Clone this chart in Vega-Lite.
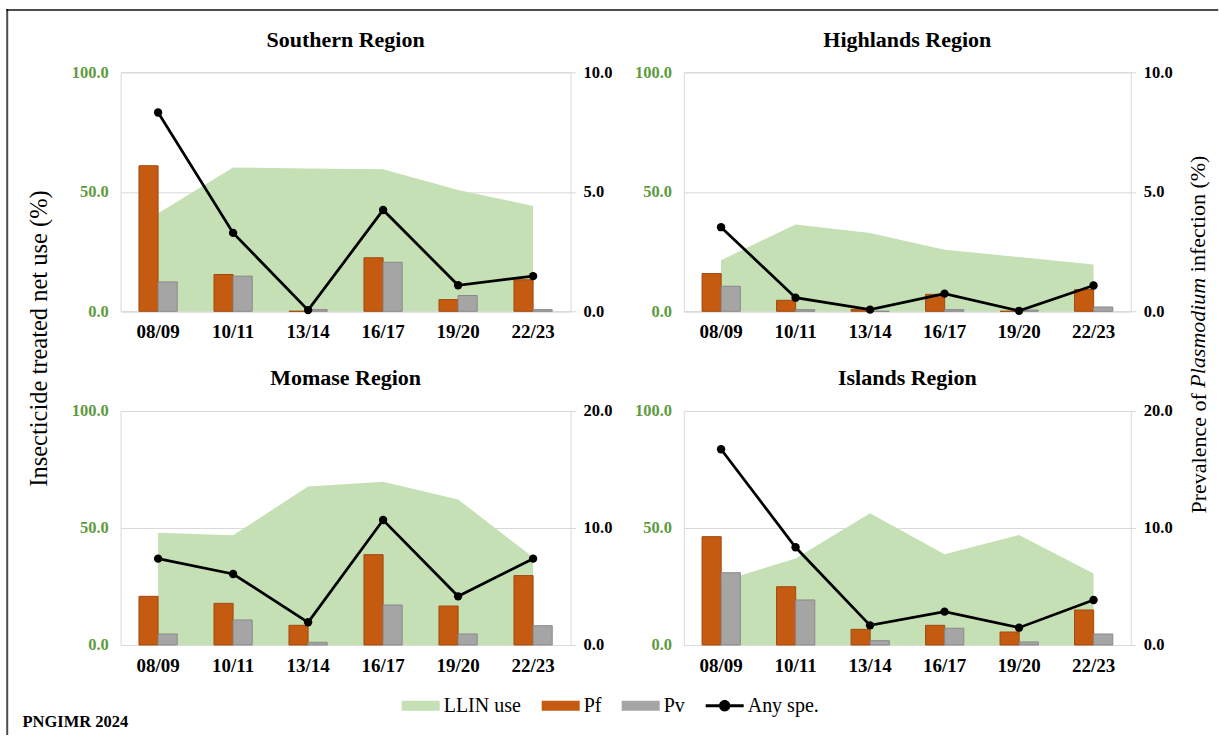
{
  "$schema": "https://vega.github.io/schema/vega-lite/v6.json",
  "background": "white",
  "padding": {"left": 5.6, "top": 8.3, "right": 0, "bottom": 0},
  "bounds": "flush",
  "columns": 2,
  "spacing": {"row": 99.7, "column": 113.2},
  "datasets": {
    "malaria": [
      {"region": "Southern", "period": "08/09", "series": "LLIN use", "value": 41.0},
      {"region": "Southern", "period": "10/11", "series": "LLIN use", "value": 60.2},
      {"region": "Southern", "period": "13/14", "series": "LLIN use", "value": 59.7},
      {"region": "Southern", "period": "16/17", "series": "LLIN use", "value": 59.4},
      {"region": "Southern", "period": "19/20", "series": "LLIN use", "value": 50.8},
      {"region": "Southern", "period": "22/23", "series": "LLIN use", "value": 44.1},
      {"region": "Southern", "period": "08/09", "series": "Pf", "value": 6.09},
      {"region": "Southern", "period": "10/11", "series": "Pf", "value": 1.54},
      {"region": "Southern", "period": "13/14", "series": "Pf", "value": 0.0},
      {"region": "Southern", "period": "16/17", "series": "Pf", "value": 2.24},
      {"region": "Southern", "period": "19/20", "series": "Pf", "value": 0.49},
      {"region": "Southern", "period": "22/23", "series": "Pf", "value": 1.32},
      {"region": "Southern", "period": "08/09", "series": "Pv", "value": 1.23},
      {"region": "Southern", "period": "10/11", "series": "Pv", "value": 1.47},
      {"region": "Southern", "period": "13/14", "series": "Pv", "value": 0.07},
      {"region": "Southern", "period": "16/17", "series": "Pv", "value": 2.05},
      {"region": "Southern", "period": "19/20", "series": "Pv", "value": 0.66},
      {"region": "Southern", "period": "22/23", "series": "Pv", "value": 0.07},
      {"region": "Southern", "period": "08/09", "series": "Any spe.", "value": 8.32},
      {"region": "Southern", "period": "10/11", "series": "Any spe.", "value": 3.28},
      {"region": "Southern", "period": "13/14", "series": "Any spe.", "value": 0.05},
      {"region": "Southern", "period": "16/17", "series": "Any spe.", "value": 4.24},
      {"region": "Southern", "period": "19/20", "series": "Any spe.", "value": 1.09},
      {"region": "Southern", "period": "22/23", "series": "Any spe.", "value": 1.47},

      {"region": "Highlands", "period": "08/09", "series": "LLIN use", "value": 21.4},
      {"region": "Highlands", "period": "10/11", "series": "LLIN use", "value": 36.3},
      {"region": "Highlands", "period": "13/14", "series": "LLIN use", "value": 32.8},
      {"region": "Highlands", "period": "16/17", "series": "LLIN use", "value": 25.8},
      {"region": "Highlands", "period": "19/20", "series": "LLIN use", "value": 22.7},
      {"region": "Highlands", "period": "22/23", "series": "LLIN use", "value": 19.6},
      {"region": "Highlands", "period": "08/09", "series": "Pf", "value": 1.58},
      {"region": "Highlands", "period": "10/11", "series": "Pf", "value": 0.46},
      {"region": "Highlands", "period": "13/14", "series": "Pf", "value": 0.08},
      {"region": "Highlands", "period": "16/17", "series": "Pf", "value": 0.71},
      {"region": "Highlands", "period": "19/20", "series": "Pf", "value": 0.0},
      {"region": "Highlands", "period": "22/23", "series": "Pf", "value": 0.91},
      {"region": "Highlands", "period": "08/09", "series": "Pv", "value": 1.05},
      {"region": "Highlands", "period": "10/11", "series": "Pv", "value": 0.07},
      {"region": "Highlands", "period": "13/14", "series": "Pv", "value": 0.0},
      {"region": "Highlands", "period": "16/17", "series": "Pv", "value": 0.07},
      {"region": "Highlands", "period": "19/20", "series": "Pv", "value": 0.05},
      {"region": "Highlands", "period": "22/23", "series": "Pv", "value": 0.18},
      {"region": "Highlands", "period": "08/09", "series": "Any spe.", "value": 3.52},
      {"region": "Highlands", "period": "10/11", "series": "Any spe.", "value": 0.57},
      {"region": "Highlands", "period": "13/14", "series": "Any spe.", "value": 0.07},
      {"region": "Highlands", "period": "16/17", "series": "Any spe.", "value": 0.74},
      {"region": "Highlands", "period": "19/20", "series": "Any spe.", "value": 0.02},
      {"region": "Highlands", "period": "22/23", "series": "Any spe.", "value": 1.08},

      {"region": "Momase", "period": "08/09", "series": "LLIN use", "value": 48.0},
      {"region": "Momase", "period": "10/11", "series": "LLIN use", "value": 46.9},
      {"region": "Momase", "period": "13/14", "series": "LLIN use", "value": 67.7},
      {"region": "Momase", "period": "16/17", "series": "LLIN use", "value": 69.8},
      {"region": "Momase", "period": "19/20", "series": "LLIN use", "value": 62.2},
      {"region": "Momase", "period": "22/23", "series": "LLIN use", "value": 37.5},
      {"region": "Momase", "period": "08/09", "series": "Pf", "value": 4.16},
      {"region": "Momase", "period": "10/11", "series": "Pf", "value": 3.56},
      {"region": "Momase", "period": "13/14", "series": "Pf", "value": 1.68},
      {"region": "Momase", "period": "16/17", "series": "Pf", "value": 7.72},
      {"region": "Momase", "period": "19/20", "series": "Pf", "value": 3.33},
      {"region": "Momase", "period": "22/23", "series": "Pf", "value": 5.93},
      {"region": "Momase", "period": "08/09", "series": "Pv", "value": 0.94},
      {"region": "Momase", "period": "10/11", "series": "Pv", "value": 2.14},
      {"region": "Momase", "period": "13/14", "series": "Pv", "value": 0.23},
      {"region": "Momase", "period": "16/17", "series": "Pv", "value": 3.42},
      {"region": "Momase", "period": "19/20", "series": "Pv", "value": 0.94},
      {"region": "Momase", "period": "22/23", "series": "Pv", "value": 1.65},
      {"region": "Momase", "period": "08/09", "series": "Any spe.", "value": 7.38},
      {"region": "Momase", "period": "10/11", "series": "Any spe.", "value": 6.07},
      {"region": "Momase", "period": "13/14", "series": "Any spe.", "value": 1.94},
      {"region": "Momase", "period": "16/17", "series": "Any spe.", "value": 10.68},
      {"region": "Momase", "period": "19/20", "series": "Any spe.", "value": 4.16},
      {"region": "Momase", "period": "22/23", "series": "Any spe.", "value": 7.38},

      {"region": "Islands", "period": "08/09", "series": "LLIN use", "value": 27.1},
      {"region": "Islands", "period": "10/11", "series": "LLIN use", "value": 37.0},
      {"region": "Islands", "period": "13/14", "series": "LLIN use", "value": 56.3},
      {"region": "Islands", "period": "16/17", "series": "LLIN use", "value": 38.8},
      {"region": "Islands", "period": "19/20", "series": "LLIN use", "value": 47.0},
      {"region": "Islands", "period": "22/23", "series": "LLIN use", "value": 30.6},
      {"region": "Islands", "period": "08/09", "series": "Pf", "value": 9.26},
      {"region": "Islands", "period": "10/11", "series": "Pf", "value": 4.98},
      {"region": "Islands", "period": "13/14", "series": "Pf", "value": 1.34},
      {"region": "Islands", "period": "16/17", "series": "Pf", "value": 1.68},
      {"region": "Islands", "period": "19/20", "series": "Pf", "value": 1.11},
      {"region": "Islands", "period": "22/23", "series": "Pf", "value": 2.99},
      {"region": "Islands", "period": "08/09", "series": "Pv", "value": 6.18},
      {"region": "Islands", "period": "10/11", "series": "Pv", "value": 3.85},
      {"region": "Islands", "period": "13/14", "series": "Pv", "value": 0.37},
      {"region": "Islands", "period": "16/17", "series": "Pv", "value": 1.43},
      {"region": "Islands", "period": "19/20", "series": "Pv", "value": 0.26},
      {"region": "Islands", "period": "22/23", "series": "Pv", "value": 0.94},
      {"region": "Islands", "period": "08/09", "series": "Any spe.", "value": 16.73},
      {"region": "Islands", "period": "10/11", "series": "Any spe.", "value": 8.35},
      {"region": "Islands", "period": "13/14", "series": "Any spe.", "value": 1.68},
      {"region": "Islands", "period": "16/17", "series": "Any spe.", "value": 2.85},
      {"region": "Islands", "period": "19/20", "series": "Any spe.", "value": 1.48},
      {"region": "Islands", "period": "22/23", "series": "Any spe.", "value": 3.85}
    ]
  },
  "data": {"name": "malaria"},
  "concat": [
    {
      "width": 450,
      "height": 239,
      "title": "Southern Region",
      "transform": [{"filter": "datum.region === 'Southern'"}],
      "encoding": {
        "x": {"field": "period", "type": "nominal", "scale": {"paddingInner": 0.49, "paddingOuter": 0.245}, "axis": {"title": null}},
        "color": {
          "field": "series", "type": "nominal",
          "scale": {"domain": ["LLIN use", "Pf", "Pv", "Any spe."], "range": ["#C5E0B4", "#C55A11", "#A5A5A5", "#000000"]},
          "legend": {
            "title": null, "orient": "none", "direction": "horizontal", "legendX": 281.1, "legendY": 614.4,
            "padding": 0, "columnPadding": 20, "labelFont": "Liberation Serif", "labelFontSize": 20, "labelColor": "#000000",
            "labelOffset": 4, "symbolSize": 1444, "symbolStrokeWidth": 0,
            "encoding": {"symbols": {
              "shape": {"value": {"expr": "datum.value === 'Any spe.' ? 'M-1,-0.08H1V0.08H-1Z M0.3,0A0.3,0.3 0 1,1 -0.3,0A0.3,0.3 0 1,1 0.3,0Z' : 'M-1,-0.26H1V0.26H-1Z'"}},
              "fill": {"value": {"expr": "datum.value === 'LLIN use' ? '#C5E0B4' : datum.value === 'Pf' ? '#C55A11' : datum.value === 'Pv' ? '#A5A5A5' : '#000000'"}},
              "stroke": {"value": "transparent"},
              "opacity": {"value": 1}
            }}
          }
        }
      },
      "layer": [
        {
          "transform": [{"filter": "datum.series === 'LLIN use'"}],
          "mark": {"type": "area", "opacity": 1},
          "encoding": {"y": {"field": "value", "type": "quantitative", "stack": null, "scale": {"domain": [0, 100]},
            "axis": {"orient": "left", "values": [0, 50, 100], "format": ".1f", "title": "Insecticide treated net use (%)",
              "titleX": -80.6, "titleY": 265.7, "titleAngle": 270, "titleAlign": "center", "titleBaseline": "middle",
              "titleFontSize": 24.5, "titleFontWeight": "normal"}}}
        },
        {
          "transform": [{"filter": "datum.series === 'Pf' || datum.series === 'Pv'"}],
          "mark": {"type": "bar", "opacity": 1, "strokeWidth": 1},
          "encoding": {
            "xOffset": {"field": "series", "type": "nominal", "scale": {"domain": ["Pf", "Pv"], "paddingInner": 0, "paddingOuter": 0}},
            "y": {"field": "value", "type": "quantitative", "stack": null, "scale": {"domain": [0, 10]},
              "axis": {"orient": "right", "values": [0, 5, 10], "format": ".1f", "title": "infection (%)",
                "titleX": 627.4, "titleY": 199.4, "titleAngle": 270, "titleAlign": "left", "titleBaseline": "middle",
                "titleFontSize": 22, "titleFontWeight": "normal"}},
            "stroke": {"condition": {"test": "datum.series === 'Pf'", "value": "#A04A0E"}, "value": "#8A8A8A"}
          }
        },
        {
          "transform": [{"filter": "datum.series === 'Any spe.'"}],
          "mark": {"type": "line", "strokeWidth": 2.75},
          "encoding": {"y": {"field": "value", "type": "quantitative", "scale": {"domain": [0, 10]}, "axis": null}}
        },
        {
          "transform": [{"filter": "datum.series === 'Any spe.'"}],
          "mark": {"type": "point", "filled": true, "size": 70, "opacity": 1},
          "encoding": {"y": {"field": "value", "type": "quantitative", "scale": {"domain": [0, 10]}, "axis": null}}
        },
        {
          "transform": [{"filter": "datum.series === 'Any spe.'"}],
          "mark": {"type": "point", "filled": true, "size": 0, "strokeWidth": 0},
          "encoding": {
            "y": {"field": "value", "type": "quantitative", "scale": {"domain": [0, 10]}, "axis": null},
            "fill": {"field": "value", "type": "quantitative", "scale": {"range": ["#000000", "#000000"]},
              "legend": {"title": null, "orient": "none", "direction": "vertical", "legendX": -114.4, "legendY": -63.3,
                "padding": 0, "gradientLength": 726, "gradientThickness": 2, "gradientStrokeWidth": 0,
                "labelExpr": "''", "labelFontSize": 0, "labelOffset": 0, "labelOpacity": 0}}
          }
        },
        {
          "transform": [{"filter": "datum.series === 'Pf'"}],
          "mark": {"type": "point", "filled": false, "size": 0, "strokeWidth": 0},
          "encoding": {
            "y": {"field": "value", "type": "quantitative", "scale": {"domain": [0, 10]}, "axis": null},
            "stroke": {"field": "value", "type": "quantitative", "scale": {"range": ["#000000", "#000000"]},
              "legend": {"title": null, "orient": "none", "direction": "horizontal", "legendX": -114.4, "legendY": -63.3,
                "padding": 0, "gradientLength": 1212, "gradientThickness": 2, "gradientStrokeWidth": 0,
                "labelExpr": "''", "labelFontSize": 0, "labelOffset": 0, "labelOpacity": 0}}
          }
        }
      ],
      "resolve": {"scale": {"y": "independent"}}
    },
    {
      "width": 447,
      "height": 239,
      "title": "Highlands Region",
      "transform": [{"filter": "datum.region === 'Highlands'"}],
      "encoding": {
        "x": {"field": "period", "type": "nominal", "scale": {"paddingInner": 0.49, "paddingOuter": 0.245}, "axis": {"title": null}},
        "color": {
          "field": "series", "type": "nominal",
          "scale": {"domain": ["LLIN use", "Pf", "Pv", "Any spe."], "range": ["#C5E0B4", "#C55A11", "#A5A5A5", "#000000"]},
          "legend": {
            "title": null, "orient": "none", "direction": "horizontal", "legendX": 281.1, "legendY": 614.4,
            "padding": 0, "columnPadding": 20, "labelFont": "Liberation Serif", "labelFontSize": 20, "labelColor": "#000000",
            "labelOffset": 4, "symbolSize": 1444, "symbolStrokeWidth": 0,
            "encoding": {"symbols": {
              "shape": {"value": {"expr": "datum.value === 'Any spe.' ? 'M-1,-0.08H1V0.08H-1Z M0.3,0A0.3,0.3 0 1,1 -0.3,0A0.3,0.3 0 1,1 0.3,0Z' : 'M-1,-0.26H1V0.26H-1Z'"}},
              "fill": {"value": {"expr": "datum.value === 'LLIN use' ? '#C5E0B4' : datum.value === 'Pf' ? '#C55A11' : datum.value === 'Pv' ? '#A5A5A5' : '#000000'"}},
              "stroke": {"value": "transparent"},
              "opacity": {"value": 1}
            }}
          }
        }
      },
      "layer": [
        {
          "transform": [{"filter": "datum.series === 'LLIN use'"}],
          "mark": {"type": "area", "opacity": 1},
          "encoding": {"y": {"field": "value", "type": "quantitative", "stack": null, "scale": {"domain": [0, 100]},
            "axis": {"orient": "left", "values": [0, 50, 100], "format": ".1f", "title": "Plasmodium",
              "titleX": 514.2, "titleY": 314.9, "titleAngle": 270, "titleAlign": "left", "titleBaseline": "middle",
              "titleFontSize": 22, "titleFontWeight": "normal", "titleFontStyle": "italic"}}}
        },
        {
          "transform": [{"filter": "datum.series === 'Pf' || datum.series === 'Pv'"}],
          "mark": {"type": "bar", "opacity": 1, "strokeWidth": 1},
          "encoding": {
            "xOffset": {"field": "series", "type": "nominal", "scale": {"domain": ["Pf", "Pv"], "paddingInner": 0, "paddingOuter": 0}},
            "y": {"field": "value", "type": "quantitative", "stack": null, "scale": {"domain": [0, 10]},
              "axis": {"orient": "right", "values": [0, 5, 10], "format": ".1f", "title": "Prevalence of",
                "titleX": 67.6, "titleY": 440.7, "titleAngle": 270, "titleAlign": "left", "titleBaseline": "middle",
                "titleFontSize": 22, "titleFontWeight": "normal"}},
            "stroke": {"condition": {"test": "datum.series === 'Pf'", "value": "#A04A0E"}, "value": "#8A8A8A"}
          }
        },
        {
          "transform": [{"filter": "datum.series === 'Any spe.'"}],
          "mark": {"type": "line", "strokeWidth": 2.75},
          "encoding": {"y": {"field": "value", "type": "quantitative", "scale": {"domain": [0, 10]}, "axis": null}}
        },
        {
          "transform": [{"filter": "datum.series === 'Any spe.'"}],
          "mark": {"type": "point", "filled": true, "size": 70, "opacity": 1},
          "encoding": {"y": {"field": "value", "type": "quantitative", "scale": {"domain": [0, 10]}, "axis": null}}
        }
      ],
      "resolve": {"scale": {"y": "independent"}}
    },
    {
      "width": 450,
      "height": 234,
      "title": "Momase Region",
      "transform": [{"filter": "datum.region === 'Momase'"}],
      "encoding": {
        "x": {"field": "period", "type": "nominal", "scale": {"paddingInner": 0.49, "paddingOuter": 0.245},
          "axis": {"title": "PNGIMR 2024", "titleX": -98.6, "titleY": 76.5, "titleAlign": "left", "titleBaseline": "middle",
            "titleAngle": 0, "titleFontSize": 16.5, "titleFontWeight": "bold"}},
        "color": {
          "field": "series", "type": "nominal",
          "scale": {"domain": ["LLIN use", "Pf", "Pv", "Any spe."], "range": ["#C5E0B4", "#C55A11", "#A5A5A5", "#000000"]},
          "legend": {
            "title": null, "orient": "none", "direction": "horizontal", "legendX": 281.1, "legendY": 614.4,
            "padding": 0, "columnPadding": 20, "labelFont": "Liberation Serif", "labelFontSize": 20, "labelColor": "#000000",
            "labelOffset": 4, "symbolSize": 1444, "symbolStrokeWidth": 0,
            "encoding": {"symbols": {
              "shape": {"value": {"expr": "datum.value === 'Any spe.' ? 'M-1,-0.08H1V0.08H-1Z M0.3,0A0.3,0.3 0 1,1 -0.3,0A0.3,0.3 0 1,1 0.3,0Z' : 'M-1,-0.26H1V0.26H-1Z'"}},
              "fill": {"value": {"expr": "datum.value === 'LLIN use' ? '#C5E0B4' : datum.value === 'Pf' ? '#C55A11' : datum.value === 'Pv' ? '#A5A5A5' : '#000000'"}},
              "stroke": {"value": "transparent"},
              "opacity": {"value": 1}
            }}
          }
        }
      },
      "layer": [
        {
          "transform": [{"filter": "datum.series === 'LLIN use'"}],
          "mark": {"type": "area", "opacity": 1},
          "encoding": {"y": {"field": "value", "type": "quantitative", "stack": null, "scale": {"domain": [0, 100]},
            "axis": {"orient": "left", "values": [0, 50, 100], "format": ".1f", "title": null}}}
        },
        {
          "transform": [{"filter": "datum.series === 'Pf' || datum.series === 'Pv'"}],
          "mark": {"type": "bar", "opacity": 1, "strokeWidth": 1},
          "encoding": {
            "xOffset": {"field": "series", "type": "nominal", "scale": {"domain": ["Pf", "Pv"], "paddingInner": 0, "paddingOuter": 0}},
            "y": {"field": "value", "type": "quantitative", "stack": null, "scale": {"domain": [0, 20]},
              "axis": {"orient": "right", "values": [0, 10, 20], "format": ".1f", "title": null}},
            "stroke": {"condition": {"test": "datum.series === 'Pf'", "value": "#A04A0E"}, "value": "#8A8A8A"}
          }
        },
        {
          "transform": [{"filter": "datum.series === 'Any spe.'"}],
          "mark": {"type": "line", "strokeWidth": 2.75},
          "encoding": {"y": {"field": "value", "type": "quantitative", "scale": {"domain": [0, 20]}, "axis": null}}
        },
        {
          "transform": [{"filter": "datum.series === 'Any spe.'"}],
          "mark": {"type": "point", "filled": true, "size": 70, "opacity": 1},
          "encoding": {"y": {"field": "value", "type": "quantitative", "scale": {"domain": [0, 20]}, "axis": null}}
        }
      ],
      "resolve": {"scale": {"y": "independent"}}
    },
    {
      "width": 447,
      "height": 234,
      "title": "Islands Region",
      "transform": [{"filter": "datum.region === 'Islands'"}],
      "encoding": {
        "x": {"field": "period", "type": "nominal", "scale": {"paddingInner": 0.49, "paddingOuter": 0.245}, "axis": {"title": null}},
        "color": {
          "field": "series", "type": "nominal",
          "scale": {"domain": ["LLIN use", "Pf", "Pv", "Any spe."], "range": ["#C5E0B4", "#C55A11", "#A5A5A5", "#000000"]},
          "legend": {
            "title": null, "orient": "none", "direction": "horizontal", "legendX": 281.1, "legendY": 614.4,
            "padding": 0, "columnPadding": 20, "labelFont": "Liberation Serif", "labelFontSize": 20, "labelColor": "#000000",
            "labelOffset": 4, "symbolSize": 1444, "symbolStrokeWidth": 0,
            "encoding": {"symbols": {
              "shape": {"value": {"expr": "datum.value === 'Any spe.' ? 'M-1,-0.08H1V0.08H-1Z M0.3,0A0.3,0.3 0 1,1 -0.3,0A0.3,0.3 0 1,1 0.3,0Z' : 'M-1,-0.26H1V0.26H-1Z'"}},
              "fill": {"value": {"expr": "datum.value === 'LLIN use' ? '#C5E0B4' : datum.value === 'Pf' ? '#C55A11' : datum.value === 'Pv' ? '#A5A5A5' : '#000000'"}},
              "stroke": {"value": "transparent"},
              "opacity": {"value": 1}
            }}
          }
        }
      },
      "layer": [
        {
          "transform": [{"filter": "datum.series === 'LLIN use'"}],
          "mark": {"type": "area", "opacity": 1},
          "encoding": {"y": {"field": "value", "type": "quantitative", "stack": null, "scale": {"domain": [0, 100]},
            "axis": {"orient": "left", "values": [0, 50, 100], "format": ".1f", "title": null}}}
        },
        {
          "transform": [{"filter": "datum.series === 'Pf' || datum.series === 'Pv'"}],
          "mark": {"type": "bar", "opacity": 1, "strokeWidth": 1},
          "encoding": {
            "xOffset": {"field": "series", "type": "nominal", "scale": {"domain": ["Pf", "Pv"], "paddingInner": 0, "paddingOuter": 0}},
            "y": {"field": "value", "type": "quantitative", "stack": null, "scale": {"domain": [0, 20]},
              "axis": {"orient": "right", "values": [0, 10, 20], "format": ".1f", "title": null}},
            "stroke": {"condition": {"test": "datum.series === 'Pf'", "value": "#A04A0E"}, "value": "#8A8A8A"}
          }
        },
        {
          "transform": [{"filter": "datum.series === 'Any spe.'"}],
          "mark": {"type": "line", "strokeWidth": 2.75},
          "encoding": {"y": {"field": "value", "type": "quantitative", "scale": {"domain": [0, 20]}, "axis": null}}
        },
        {
          "transform": [{"filter": "datum.series === 'Any spe.'"}],
          "mark": {"type": "point", "filled": true, "size": 70, "opacity": 1},
          "encoding": {"y": {"field": "value", "type": "quantitative", "scale": {"domain": [0, 20]}, "axis": null}}
        }
      ],
      "resolve": {"scale": {"y": "independent"}}
    }
  ],
  "config": {
    "font": "Liberation Serif",
    "view": {"stroke": "#D9D9D9", "strokeWidth": 1},
    "title": {"font": "Liberation Serif", "fontSize": 22, "fontWeight": "bold", "color": "#000000", "anchor": "middle", "frame": "group", "baseline": "alphabetic", "offset": 12.6},
    "axis": {"labelFont": "Liberation Serif", "titleFont": "Liberation Serif", "titleColor": "#000000"},
    "axisX": {"labelFontSize": 19, "labelFontWeight": "bold", "labelColor": "#000000", "labelAngle": 0, "ticks": false, "tickSize": 0, "domainColor": "#D9D9D9", "domainWidth": 1, "labelPadding": 11.5, "grid": false},
    "axisY": {"labelFontSize": 16.5, "labelFontWeight": "bold", "labelFlush": false, "domain": false},
    "axisLeft": {"labelColor": "#5E9B40", "ticks": false, "tickSize": 0, "labelPadding": 12.3, "grid": true, "gridColor": "#D9D9D9", "gridWidth": 1},
    "axisRight": {"labelColor": "#000000", "ticks": true, "tickSize": 5, "tickColor": "#D9D9D9", "labelPadding": 7.5, "grid": false}
  }
}
